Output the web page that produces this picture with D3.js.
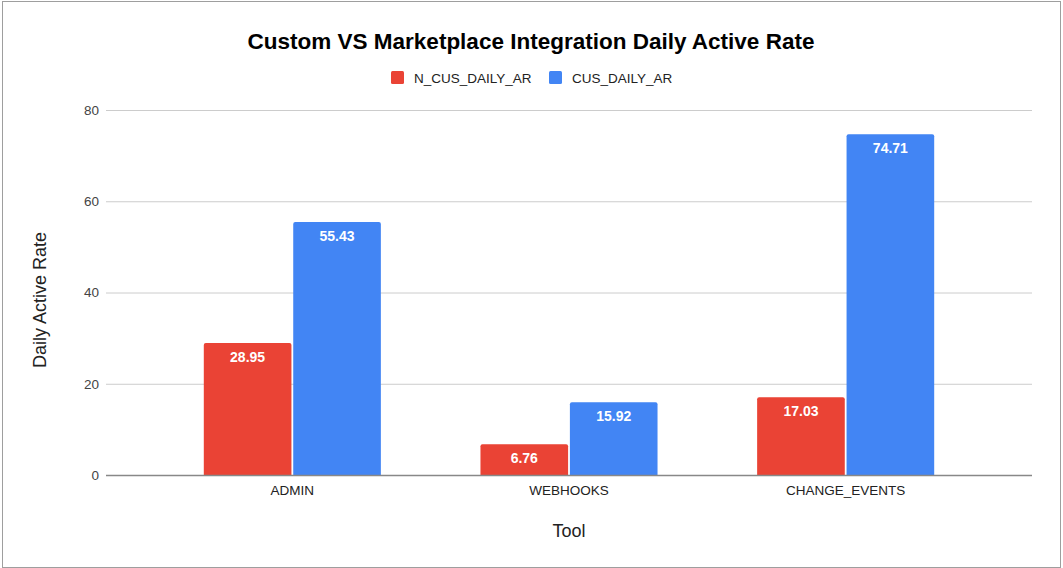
<!DOCTYPE html>
<html>
<head>
<meta charset="utf-8">
<script src="https://cdn.jsdelivr.net/npm/d3@7"></script>
<style>
  body { margin: 0; background: #fff; }
  text { font-family: "Liberation Sans", Arial, sans-serif; }
</style>
</head>
<body>
<svg width="1063" height="568"></svg>
<script>
var categories = ["ADMIN", "WEBHOOKS", "CHANGE_EVENTS"];
var seriesNames = ["N_CUS_DAILY_AR", "CUS_DAILY_AR"];
var nCusDailyAr = [28.95, 6.76, 17.03];
var cusDailyAr = [55.43, 15.92, 74.71];
var yTicks = [0, 20, 40, 60, 80];
var colors = ["#ea4335", "#4285f4"];

var svg = d3.select("svg");

// chart frame
svg.append("rect")
  .attr("x", 2.5).attr("y", 1.5)
  .attr("width", 1058).attr("height", 566)
  .attr("fill", "#fff")
  .attr("stroke", "#9e9e9e");

svg.append("text")
  .attr("x", 531).attr("y", 49)
  .attr("text-anchor", "middle")
  .style("font-size", "22.5px")
  .style("font-weight", "bold")
  .style("fill", "#000")
  .text("Custom VS Marketplace Integration Daily Active Rate");

var data = categories.map(function(c, i) {
  return {cat: c, values: [nCusDailyAr[i], cusDailyAr[i]]};
});

var gridLeft = 106, gridRight = 1032;
var xScale = d3.scaleBand().domain(categories).range([154, 984]).paddingInner(0.36).paddingOuter(0.18);
var xSub = d3.scaleBand().domain([0, 1]).range([0, xScale.bandwidth()]).paddingInner(0.02);
var yScale = d3.scaleLinear().domain([0, 80]).range([475, 110]);

// gridlines
svg.append("g").selectAll("line")
  .data(yTicks.filter(function(t) { return t > 0; }))
  .enter().append("line")
  .attr("x1", gridLeft).attr("x2", gridRight)
  .attr("y1", function(d) { return yScale(d) + 0.5; })
  .attr("y2", function(d) { return yScale(d) + 0.5; })
  .attr("stroke", "#cccccc");

// y axis tick labels
var yAxis = svg.append("g")
  .attr("transform", "translate(" + gridLeft + ",0)")
  .call(d3.axisLeft(yScale).tickValues(yTicks).tickSize(0).tickPadding(7));
yAxis.select(".domain").remove();
yAxis.selectAll("text")
  .style("font-size", "13.5px")
  .style("fill", "#444")
  .style("font-family", "Liberation Sans, Arial, sans-serif");

// bars
var groups = svg.append("g").selectAll("g")
  .data(data)
  .enter().append("g")
  .attr("transform", function(d) { return "translate(" + xScale(d.cat) + ",0)"; });

groups.selectAll("path")
  .data(function(d) { return d.values; })
  .enter().append("path")
  .attr("fill", function(d, i) { return colors[i]; })
  .attr("d", function(d, i) {
    var x0 = xSub(i), w = xSub.bandwidth(), y0 = yScale(d), y1 = yScale(0), r = 2;
    return "M" + x0 + "," + y1 + "V" + (y0 + r) + "Q" + x0 + "," + y0 + " " + (x0 + r) + "," + y0 +
      "H" + (x0 + w - r) + "Q" + (x0 + w) + "," + y0 + " " + (x0 + w) + "," + (y0 + r) + "V" + y1 + "Z";
  });

groups.selectAll("text.val")
  .data(function(d) { return d.values; })
  .enter().append("text")
  .attr("class", "val")
  .attr("x", function(d, i) { return xSub(i) + xSub.bandwidth() / 2; })
  .attr("y", function(d) { return yScale(d) + 19; })
  .attr("text-anchor", "middle")
  .style("font-size", "14px")
  .style("font-weight", "bold")
  .style("fill", "#fff")
  .text(function(d) { return d3.format(".2f")(d); });

// baseline
svg.append("line")
  .attr("x1", gridLeft).attr("x2", gridRight)
  .attr("y1", yScale(0) + 0.5).attr("y2", yScale(0) + 0.5)
  .attr("stroke", "#888").attr("stroke-width", 1.5);

// x axis labels
var xAxis = svg.append("g")
  .attr("transform", "translate(0," + yScale(0) + ")")
  .call(d3.axisBottom(xScale).tickSize(0).tickPadding(10));
xAxis.select(".domain").remove();
xAxis.selectAll("text")
  .style("font-size", "13.5px")
  .style("fill", "#222")
  .style("font-family", "Liberation Sans, Arial, sans-serif");

// axis titles
svg.append("text")
  .attr("x", 569).attr("y", 537)
  .attr("text-anchor", "middle")
  .style("font-size", "18px")
  .style("fill", "#222")
  .text("Tool");

svg.append("text")
  .attr("transform", "translate(46,300) rotate(-90)")
  .attr("text-anchor", "middle")
  .style("font-size", "18px")
  .style("fill", "#222")
  .text("Daily Active Rate");

// legend
var legendX = [391, 549];
var legend = svg.append("g").selectAll("g")
  .data(seriesNames)
  .enter().append("g")
  .attr("transform", function(d, i) { return "translate(" + legendX[i] + ",71)"; });
legend.append("rect")
  .attr("width", 13).attr("height", 13).attr("rx", 1.5)
  .attr("fill", function(d, i) { return colors[i]; });
legend.append("text")
  .attr("x", 23).attr("y", 11.5)
  .style("font-size", "13.5px")
  .style("fill", "#222")
  .text(function(d) { return d; });
</script>
</body>
</html>
